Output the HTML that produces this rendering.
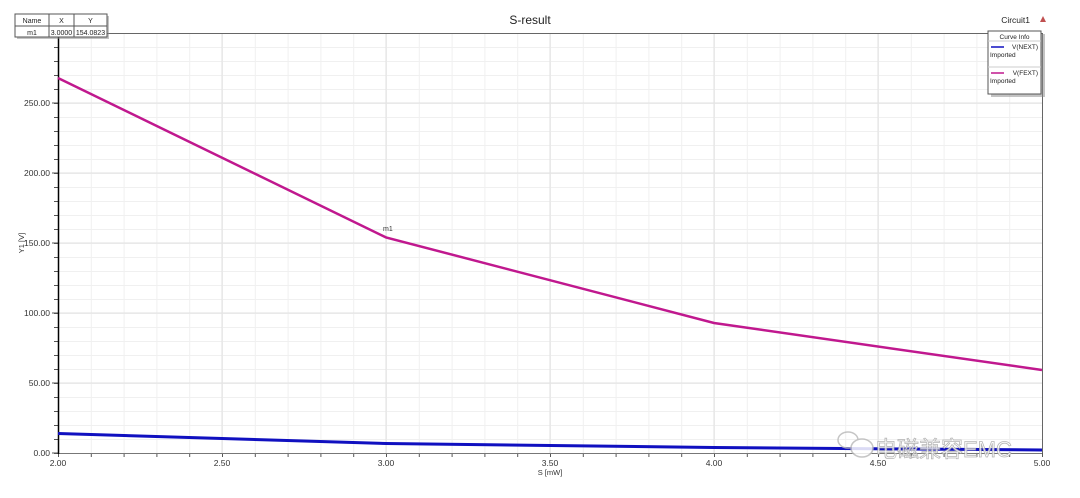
<!DOCTYPE html>
<html><head><meta charset="utf-8"><style>
html,body{margin:0;padding:0;background:#fff;}
svg{display:block;font-family:"Liberation Sans","Noto Sans CJK SC",sans-serif;}
</style></head><body>
<svg width="1080" height="498" viewBox="0 0 1080 498" xmlns="http://www.w3.org/2000/svg">
<defs>
<pattern id="vg" x="58" y="0" width="32.8" height="10" patternUnits="userSpaceOnUse"><line x1="0.5" y1="0" x2="0.5" y2="10" stroke="#f0f0f0" stroke-width="1"/></pattern>
<pattern id="hg" x="0" y="33" width="10" height="14" patternUnits="userSpaceOnUse"><line x1="0" y1="0.5" x2="10" y2="0.5" stroke="#f0f0f0" stroke-width="1"/></pattern>
<pattern id="xt" x="58" y="0" width="32.8" height="10" patternUnits="userSpaceOnUse"><line x1="0.5" y1="0" x2="0.5" y2="10" stroke="#555" stroke-width="1"/></pattern>
<pattern id="yt" x="0" y="33" width="10" height="14" patternUnits="userSpaceOnUse"><line x1="0" y1="0.5" x2="10" y2="0.5" stroke="#555" stroke-width="1"/></pattern>
</defs>
<rect x="58" y="33" width="984" height="420" fill="url(#vg)"/>
<rect x="58" y="33" width="984" height="420" fill="url(#hg)"/>
<g stroke="#e2e2e2" stroke-width="1">
<line x1="222" y1="33" x2="222" y2="453"/><line x1="386" y1="33" x2="386" y2="453"/><line x1="550" y1="33" x2="550" y2="453"/><line x1="714" y1="33" x2="714" y2="453"/><line x1="878" y1="33" x2="878" y2="453"/>
<line x1="58" y1="383" x2="1042" y2="383"/><line x1="58" y1="313" x2="1042" y2="313"/><line x1="58" y1="243" x2="1042" y2="243"/><line x1="58" y1="173" x2="1042" y2="173"/><line x1="58" y1="103" x2="1042" y2="103"/>
</g>
<rect x="58" y="453" width="985" height="4" fill="url(#xt)"/>
<rect x="54" y="33" width="4" height="421" fill="url(#yt)"/>
<g stroke="#555" stroke-width="1"><line x1="52" y1="453" x2="58" y2="453"/><line x1="52" y1="383" x2="58" y2="383"/><line x1="52" y1="313" x2="58" y2="313"/><line x1="52" y1="243" x2="58" y2="243"/><line x1="52" y1="173" x2="58" y2="173"/><line x1="52" y1="103" x2="58" y2="103"/></g>
<line x1="58" y1="33.5" x2="1042" y2="33.5" stroke="#666"/>
<line x1="1042.5" y1="33" x2="1042.5" y2="453" stroke="#666"/>
<line x1="58" y1="453.5" x2="1042" y2="453.5" stroke="#777"/>
<line x1="58.5" y1="33" x2="58.5" y2="454" stroke="#000" stroke-width="1.5"/>
<g font-size="8.5" fill="#333" text-anchor="end">
<text x="50" y="456">0.00</text><text x="50" y="386">50.00</text><text x="50" y="316">100.00</text><text x="50" y="246">150.00</text><text x="50" y="176">200.00</text><text x="50" y="106">250.00</text>
</g>
<g font-size="8.5" fill="#333" text-anchor="middle">
<text x="58" y="466">2.00</text><text x="222" y="466">2.50</text><text x="386" y="466">3.00</text><text x="550" y="466">3.50</text><text x="714" y="466">4.00</text><text x="878" y="466">4.50</text><text x="1042" y="466">5.00</text>
</g>
<text x="550" y="475" font-size="7.5" fill="#333" text-anchor="middle">S [mW]</text>
<text x="0" y="0" font-size="7.5" fill="#333" text-anchor="middle" transform="translate(24,243) rotate(-90)">Y1 [V]</text>
<text x="530" y="24" font-size="12" fill="#222" text-anchor="middle">S-result</text>
<text x="1030" y="23" font-size="8.5" fill="#222" text-anchor="end">Circuit1</text>
<polygon points="1040,22 1046,22 1043,16" fill="#c05050"/>
<polyline points="58,78 386,237.4 714,323 1042,370" fill="none" stroke="#c0188e" stroke-width="2.5"/>
<polyline points="58,433.5 386,443.5 714,447.5 1042,450" fill="none" stroke="#1010c0" stroke-width="3"/>
<text x="383" y="231" font-size="7" fill="#333">m1</text>
<rect x="17" y="16" width="92" height="23" fill="#888" opacity="0.5"/>
<rect x="15" y="14" width="92" height="23" fill="#fff" stroke="#555"/>
<line x1="15" y1="26" x2="107" y2="26" stroke="#555"/>
<line x1="49" y1="14" x2="49" y2="37" stroke="#555"/><line x1="74" y1="14" x2="74" y2="37" stroke="#555"/>
<g font-size="7" fill="#222" text-anchor="middle"><text x="32" y="23">Name</text><text x="61.5" y="23">X</text><text x="90.5" y="23">Y</text><text x="32" y="35">m1</text><text x="61.5" y="35">3.0000</text><text x="90.5" y="35">154.0823</text></g>
<rect x="991" y="34" width="54" height="63" fill="#888" opacity="0.5"/>
<rect x="988" y="31" width="53" height="63" fill="#fff" stroke="#555"/>
<text x="1014.5" y="39" font-size="6.5" fill="#222" text-anchor="middle">Curve Info</text>
<line x1="988" y1="41" x2="1041" y2="41" stroke="#ccc"/>
<line x1="991" y1="47" x2="1004" y2="47" stroke="#1010c0" stroke-width="1.5"/>
<text x="1038" y="49" font-size="6.5" fill="#222" text-anchor="end">V(NEXT)</text>
<text x="990" y="57" font-size="6.5" fill="#222">Imported</text>
<line x1="988" y1="67" x2="1041" y2="67" stroke="#ccc"/>
<line x1="991" y1="73" x2="1004" y2="73" stroke="#c0188e" stroke-width="1.5"/>
<text x="1038" y="75" font-size="6.5" fill="#222" text-anchor="end">V(FEXT)</text>
<text x="990" y="83" font-size="6.5" fill="#222">Imported</text>
<g opacity="0.85">
<ellipse cx="848" cy="440" rx="10" ry="8" fill="none" stroke="#bbb" stroke-width="1.5"/>
<ellipse cx="862" cy="448" rx="11" ry="9" fill="#fff" stroke="#bbb" stroke-width="1.5"/>
<text x="875" y="457" font-size="22" fill="#fff" stroke="#aaa" stroke-width="0.8">电磁兼容EMC</text>
</g>
</svg>
</body></html>
